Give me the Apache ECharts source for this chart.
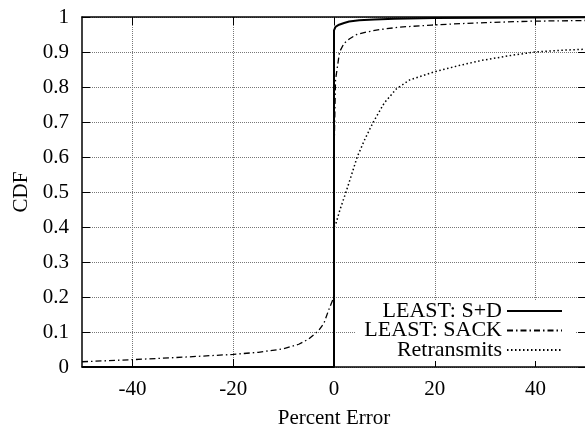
<!DOCTYPE html>
<html lang="en">
  <head>
    <meta charset="UTF-8">
    <title>CDF of percent error</title>
    <script src="https://cdn.jsdelivr.net/npm/echarts@6/dist/echarts.min.js"></script>
  </head>
  <body style="margin:0;background:#fff;">
    <div id="main" style="width: 585px;height:427px;"></div>
    <script type="text/javascript">
      // Values
      const seriesNames = ['LEAST: S+D', 'LEAST: SACK', 'Retransmits'];

      const sdX = [-50, 0, 0, 0.3, 1, 2, 3, 5, 8, 12, 20, 30, 50];
      const sdY = [0, 0, 0.962, 0.972, 0.978, 0.983, 0.987, 0.991, 0.993, 0.995, 0.997, 0.998, 0.999];

      const sackX = [-50, -40, -30, -20, -15, -10, -7, -5, -3, -2, -1, -0.3, 0, 0, 0.3, 1.1, 2, 3.1, 4.5, 6.4, 9, 13, 19.4, 25, 30, 39, 50];
      const sackY = [0.015, 0.021, 0.028, 0.036, 0.042, 0.052, 0.065, 0.08, 0.105, 0.125, 0.165, 0.19, 0.2, 0.6, 0.82, 0.9, 0.925, 0.938, 0.95, 0.957, 0.964, 0.971, 0.977, 0.981, 0.984, 0.988, 0.99];

      const retrX = [0, 0, 0.34, 1.2, 2.5, 3.5, 4.6, 6.1, 7.8, 10, 12.4, 15, 19.8, 25, 29.3, 35, 39.9, 45, 50];
      const retrY = [0, 0.4, 0.408, 0.45, 0.505, 0.55, 0.6, 0.65, 0.7, 0.755, 0.795, 0.82, 0.843, 0.862, 0.876, 0.89, 0.9, 0.905, 0.908];

      const xTicks = [-40, -20, 0, 20, 40];

      const pairs = (xs, ys) => xs.map((x, i) => [x, ys[i]]);
      const font = 'Liberation Serif';

      let myChart = echarts.init(document.getElementById('main'));

      const frameLine = { onZero: false, lineStyle: { color: '#000', width: 1.5 } };
      const frameTick = { show: true, inside: true, length: 8, lineStyle: { color: '#000' } };
      const gridLine = { show: true, lineStyle: { type: 'dotted', color: '#777', width: 1 } };

      let options = {
        animation: false,
        backgroundColor: '#fff',
        textStyle: { fontFamily: font, color: '#000' },
        grid: { left: 82, top: 17, right: -1, bottom: 60, outerBoundsMode: 'none' },
        xAxis: [
          { type: 'value', min: -50, max: 50, interval: 10,
            axisLine: frameLine,
            axisTick: Object.assign({ customValues: xTicks }, frameTick),
            axisLabel: { color: '#000', fontFamily: font, fontSize: 21, margin: 12, customValues: xTicks },
            splitLine: gridLine,
            name: 'Percent Error', nameLocation: 'middle', nameGap: 41,
            nameTextStyle: { color: '#000', fontFamily: font, fontSize: 21 } },
          { type: 'value', position: 'top', min: -50, max: 50, interval: 10,
            axisLine: frameLine,
            axisTick: Object.assign({ customValues: xTicks }, frameTick),
            axisLabel: { show: false }, splitLine: { show: false } }
        ],
        yAxis: [
          { type: 'value', min: 0, max: 1, interval: 0.1,
            axisLine: Object.assign({ show: true }, frameLine),
            axisTick: frameTick,
            axisLabel: { color: '#000', fontFamily: font, fontSize: 21, margin: 13 },
            splitLine: gridLine,
            name: 'CDF', nameLocation: 'middle', nameGap: 50,
            nameTextStyle: { color: '#000', fontFamily: font, fontSize: 21 } },
          { type: 'value', position: 'right', min: 0, max: 1, interval: 0.1,
            axisLine: Object.assign({ show: true }, frameLine),
            axisTick: frameTick,
            axisLabel: { show: false }, splitLine: { show: false } }
        ],
        legend: {
          orient: 'vertical', align: 'right',
          right: 10, bottom: 66,
          backgroundColor: '#fff',
          padding: [0, 12, 0, 9],
          itemWidth: 55, itemHeight: 14, itemGap: -2.5,
          itemStyle: { color: 'transparent', borderColor: 'transparent', opacity: 0 },
          textStyle: { color: '#000', fontFamily: font, fontSize: 22 },
          data: seriesNames
        },
        series: [
          { name: seriesNames[0], type: 'line', symbol: 'none', data: pairs(sdX, sdY),
            itemStyle: { color: '#000' },
            lineStyle: { color: '#000', width: 2, type: 'solid' } },
          { name: seriesNames[1], type: 'line', symbol: 'none', data: pairs(sackX, sackY),
            itemStyle: { color: '#000' },
            lineStyle: { color: '#000', width: 1.3, type: [6, 3, 1.5, 3] } },
          { name: seriesNames[2], type: 'line', symbol: 'none', data: pairs(retrX, retrY),
            itemStyle: { color: '#000' },
            lineStyle: { color: '#000', width: 1.5, type: [1.5, 2.5] } }
        ]
      };

      myChart.setOption(options);
    </script>
  </body>
</html>
